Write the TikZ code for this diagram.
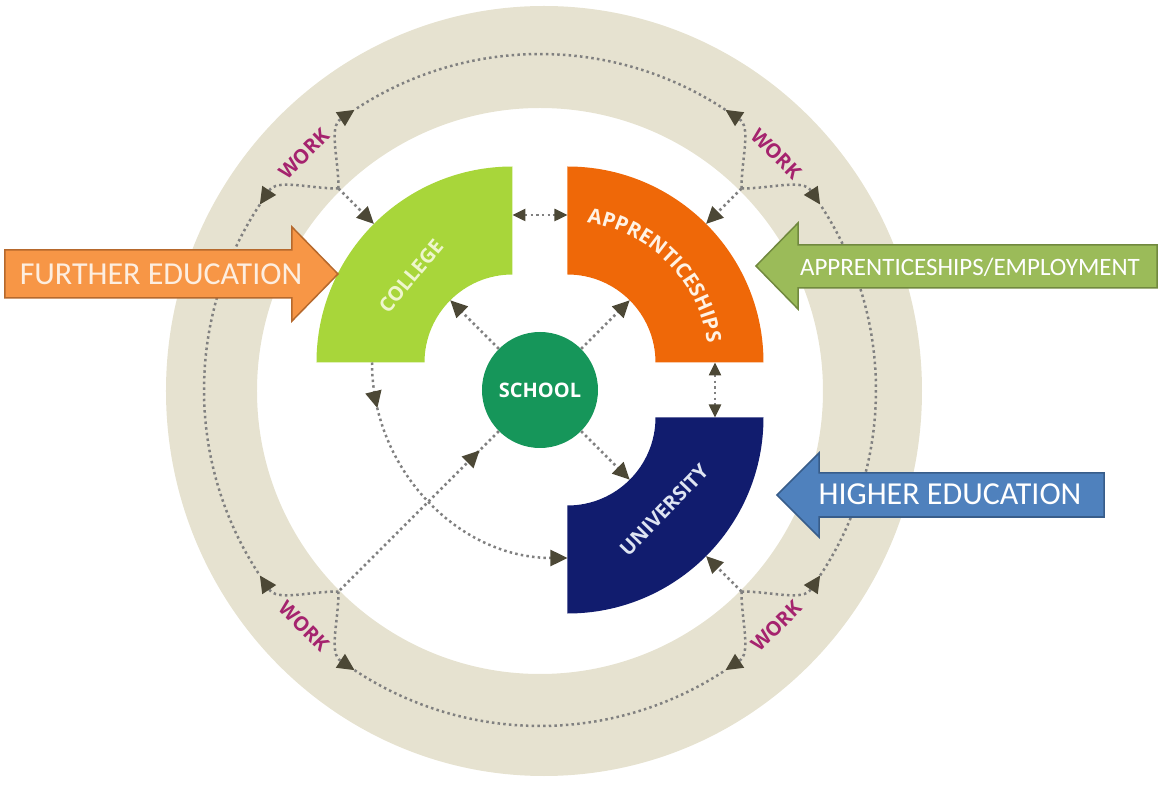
\documentclass[tikz,border=0pt]{standalone}
\usepackage{fontspec}
\setmainfont{Carlito}
\newfontfamily\blockfont{Open Sans}
\usetikzlibrary{arrows.meta,decorations.markings,decorations.text}

\definecolor{ringbeige}{RGB}{230,226,208}
\definecolor{dotgrey}{RGB}{128,128,128}
\definecolor{tipolive}{RGB}{76,72,54}
\definecolor{collegegreen}{RGB}{168,214,58}
\definecolor{collegetext}{RGB}{238,246,205}
\definecolor{approrange}{RGB}{239,104,8}
\definecolor{apprtext}{RGB}{255,242,228}
\definecolor{uninavy}{RGB}{17,28,110}
\definecolor{unitext}{RGB}{222,228,242}
\definecolor{schoolgreen}{RGB}{22,150,90}
\definecolor{workpink}{RGB}{165,35,110}
\definecolor{feorange}{RGB}{247,150,70}
\definecolor{feedge}{RGB}{182,105,45}
\definecolor{fetext}{RGB}{253,238,224}
\definecolor{aegreen}{RGB}{155,187,89}
\definecolor{aeedge}{RGB}{113,137,63}
\definecolor{heblue}{RGB}{79,129,189}
\definecolor{heedge}{RGB}{56,93,138}

\begin{document}
\begin{tikzpicture}
  [x=1pt,y=1pt,
   link/.style={draw=dotgrey,line width=2.5pt,dash pattern=on 2.5pt off 3.2pt},
   post/.style={link,->,>={Triangle[length=17pt,width=16pt,color=tipolive]}},
   both/.style={link,<->,>={Triangle[length=13pt,width=12pt,color=tipolive]}},
   back at/.style={link,postaction={decorate},decoration={markings,
     mark=at position #1 with {\arrowreversed{Triangle[length=17pt,width=16pt,color=tipolive]}}}},
   fwd at/.style={postaction={decorate},decoration={markings,
     mark=at position #1 with {\arrow{Triangle[length=17pt,width=16pt,color=tipolive]}}}},
   hub/.style={circle,fill=schoolgreen,minimum size=116pt,inner sep=0pt,text=white,
     font=\blockfont\bfseries\fontsize{20}{20}\selectfont},
   blocklabel/.style={inner sep=0pt,font=\blockfont\bfseries\fontsize{20}{20}\selectfont},
   work/.style={inner sep=0pt,text=workpink,font=\blockfont\bfseries\fontsize{20}{20}\selectfont},
   banner/.style={inner sep=0pt,font=\fontsize{32}{32}\selectfont}]

  \useasboundingbox (-540,-397) rectangle (620,390);

  % ring of work
  \fill[ringbeige,even odd rule] (4,-1) ellipse [x radius=378,y radius=385]
    (0,-1) circle [radius=283];

  % sectors
  \fill[collegegreen] (-27.5,223.5) arc[start angle=90,end angle=180,radius=196]
    -- ++(108,0) arc[start angle=180,end angle=90,radius=88] -- cycle;
  \fill[approrange] (27.5,223.5) arc[start angle=90,end angle=0,radius=196]
    -- ++(-108,0) arc[start angle=0,end angle=90,radius=88] -- cycle;
  \fill[uninavy] (223.5,-27.5) arc[start angle=0,end angle=-90,radius=196]
    -- ++(0,108) arc[start angle=-90,end angle=0,radius=88] -- cycle;

  \node[blocklabel,text=collegetext,rotate=50] (college) at (-129,114) {COLLEGE};
  \node[blocklabel,text=unitext,rotate=46]     (university) at (124,-120) {UNIVERSITY};
  \path[decorate,decoration={text along path,text align=center,text color=apprtext,
      text={|\blockfont\bfseries\fontsize{20.5}{20.5}\selectfont|APPRENTICESHIPS}}]
    ([shift={(94:141)}]27.5,27.5) arc[start angle=94,end angle=-4,radius=141];

  % anchor points on the sectors
  \coordinate (college in)   at ([shift={(135:88)}]-27.5,27.5);
  \coordinate (college out)  at ([shift={(135:196)}]-27.5,27.5);
  \coordinate (college side) at (-27.5,175);
  \coordinate (college low)  at (-168,27.5);
  \coordinate (appr in)      at ([shift={(45:88)}]27.5,27.5);
  \coordinate (appr out)     at ([shift={(45:196)}]27.5,27.5);
  \coordinate (appr side)    at (27.5,175);
  \coordinate (appr low)     at (175,27.5);
  \coordinate (uni in)       at ([shift={(-45:88)}]27.5,-27.5);
  \coordinate (uni out)      at ([shift={(-45:196)}]27.5,-27.5);
  \coordinate (uni top)      at (175,-27.5);
  \coordinate (uni side)     at (27.5,-168);

  % work junctions and where they join the outer loop
  \coordinate (jn tr) at (45:285);
  \coordinate (jn tl) at (135:285);
  \coordinate (jn bl) at (225:285);
  \coordinate (jn br) at (315:285);
  \coordinate (tr a) at (33.5:336);  \coordinate (tr b) at (56.5:336);
  \coordinate (tl a) at (123.5:336); \coordinate (tl b) at (146.5:336);
  \coordinate (bl a) at (213.5:336); \coordinate (bl b) at (236.5:336);
  \coordinate (br a) at (303.5:336); \coordinate (br b) at (326.5:336);

  \node[hub] (school) at (0,0) {SCHOOL}
    edge [post]         (college in)
    edge [post]         (appr in)
    edge [post]         (uni in)
    edge [back at=0.12] (jn bl);

  \draw[post,fwd at=0.15] (college low) arc[start angle=180,end angle=270,radius=195.5];
  \draw[both] (college side) -- (appr side);
  \draw[both] (appr low) -- (uni top);

  \draw[post] (jn tl) -- (college out);
  \draw[post] (jn tr) -- (appr out);
  \draw[post] (jn br) -- (uni out);

  \draw[post] (jn tr) to[out=0,in=123.5]   (tr a);
  \draw[post] (jn tr) to[out=90,in=-33.5]  (tr b);
  \draw[post] (jn tl) to[out=90,in=213.5]  (tl a);
  \draw[post] (jn tl) to[out=180,in=56.5]  (tl b);
  \draw[post] (jn bl) to[out=180,in=303.5] (bl a);
  \draw[post] (jn bl) to[out=270,in=146.5] (bl b);
  \draw[post] (jn br) to[out=270,in=33.5]  (br a);
  \draw[post] (jn br) to[out=0,in=236.5]   (br b);

  \draw[link] (tr b) arc[start angle=56.5,end angle=123.5,radius=336];
  \draw[link] (tl b) arc[start angle=146.5,end angle=213.5,radius=336];
  \draw[link] (bl b) arc[start angle=236.5,end angle=303.5,radius=336];
  \draw[link] (br b) arc[start angle=326.5,end angle=393.5,radius=336];

  \node[work,rotate=-45] (work tr) at (45:334)  {WORK};
  \node[work,rotate=45]  (work tl) at (135:334) {WORK};
  \node[work,rotate=-45] (work bl) at (225:334) {WORK};
  \node[work,rotate=45]  (work br) at (315:334) {WORK};

  % routes in
  \filldraw[fill=feorange,draw=feedge,line width=1.5pt] (-535,140) -- (-248,140) -- (-248,163)
    -- (-202,116) -- (-248,69) -- (-248,92) -- (-535,92) -- cycle;
  \node[banner,text=fetext] (further) at (-379,116) {FURTHER EDUCATION};

  \filldraw[fill=aegreen,draw=aeedge,line width=1.5pt] (617,145) -- (258,145) -- (258,167)
    -- (216,124) -- (258,81) -- (258,102) -- (617,102) -- cycle;
  \node[banner,text=white,font=\fontsize{25}{25}\selectfont] (employment) at (430,123)
    {APPRENTICESHIPS/EMPLOYMENT};

  \filldraw[fill=heblue,draw=heedge,line width=1.5pt] (564,-83) -- (279,-83) -- (279,-63)
    -- (237,-105) -- (279,-147) -- (279,-127) -- (564,-127) -- cycle;
  \node[banner,text=white] (higher) at (410,-104) {HIGHER EDUCATION};
\end{tikzpicture}
\end{document}
